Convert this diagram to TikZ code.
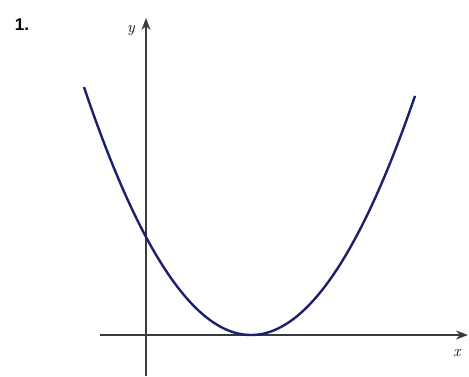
\documentclass[tikz,border=0pt]{standalone}
\usepackage{fontspec}
\setsansfont{Liberation Sans}
\usepackage{tikz}
\usetikzlibrary{arrows.meta,positioning}
\usepackage{xcolor}
\definecolor{curve}{HTML}{1C1F6B}
\definecolor{axisgray}{HTML}{3A3A3A}

\begin{document}
\begin{tikzpicture}[
  x=1pt,y=-1pt,
  axis/.style={draw=axisgray,line width=1.5pt,-{Stealth[length=12pt,width=9pt]}},
  graph/.style={draw=curve,line width=2.4pt},
  lbl/.style={font=\fontsize{16}{16}\selectfont\itshape,inner sep=0pt},
]
  \useasboundingbox (0,0) rectangle (469,376);
  \fill[white] (0,0) rectangle (469,376);
  \node[font=\fontsize{17}{17}\selectfont\sffamily\bfseries,inner sep=0pt] (num) at (22,25) {1.};
  % axes
  \coordinate (xstart) at (100,335);
  \coordinate (xend) at (468,335);
  \coordinate (ystart) at (146,376);
  \coordinate (yend) at (146,18);
  \draw[axis] (xstart) -- (xend);
  \draw[axis] (ystart) -- (yend);
  \node[lbl] (ylbl) at (131,31) {y};
  \node[lbl] (xlbl) at (457,353) {x};
  % parabola
  \draw[graph] plot[domain=84:415,samples=80,smooth] (\x,{335-0.889*((\x-251)/10)^2});
\end{tikzpicture}
\end{document}
